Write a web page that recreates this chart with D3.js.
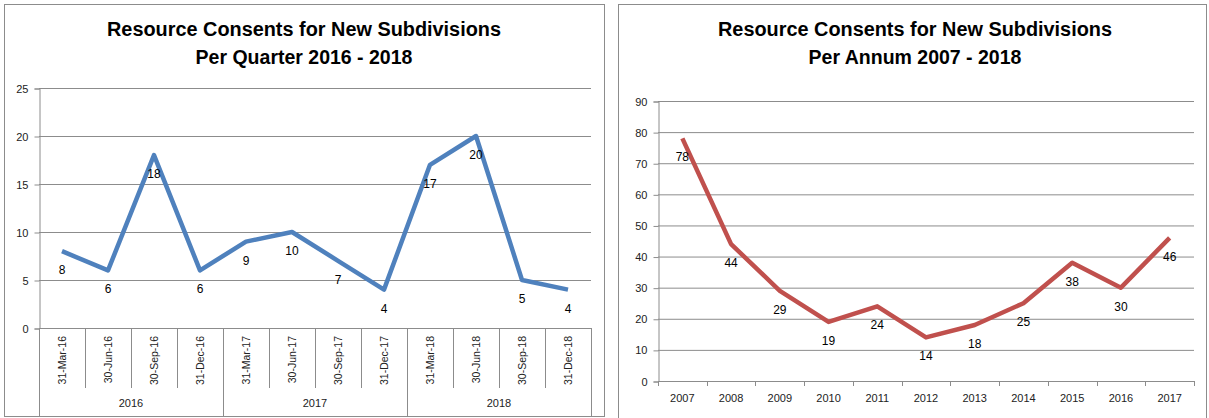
<!DOCTYPE html>
<html>
<head>
<meta charset="utf-8">
<script src="https://cdn.jsdelivr.net/npm/d3@7"></script>
<style>
  body { margin: 0; background: #fff; }
  svg { display: block; font-family: "Liberation Sans", Arial, sans-serif; }
  .tick text { fill: #222; }
</style>
</head>
<body>
<div id="chart"></div>
<script>
// data
var quarterDates = ["31-Mar-16", "30-Jun-16", "30-Sep-16", "31-Dec-16",
                    "31-Mar-17", "30-Jun-17", "30-Sep-17", "31-Dec-17",
                    "31-Mar-18", "30-Jun-18", "30-Sep-18", "31-Dec-18"];
var quarterYears = ["2016", "2017", "2018"];
var quarterValues = [8, 6, 18, 6, 9, 10, 7, 4, 17, 20, 5, 4];
var quarterTicks = [0, 5, 10, 15, 20, 25];

var annumYears = ["2007", "2008", "2009", "2010", "2011", "2012",
                  "2013", "2014", "2015", "2016", "2017"];
var annumValues = [78, 44, 29, 19, 24, 14, 18, 25, 38, 30, 46];
var annumTicks = [0, 10, 20, 30, 40, 50, 60, 70, 80, 90];

var width = 1209, height = 418;
var grid = "#8c8c8c";

var svg = d3.select('#chart')
			.append('svg')
			.attr('width', width)
			.attr('height', height);

function drawTitle(cx, line1, line2) {
	svg.append('text')
		.attr('x', cx).attr('y', 36)
		.attr('text-anchor', 'middle')
		.attr('font-size', 19.5).attr('font-weight', 'bold')
		.attr('textLength', 394).attr('lengthAdjust', 'spacingAndGlyphs')
		.text(line1);
	svg.append('text')
		.attr('x', cx).attr('y', 64)
		.attr('text-anchor', 'middle')
		.attr('font-size', 19.5).attr('font-weight', 'bold')
		.text(line2);
}

function yAxis(g, y, ticks, x0, x1) {
	// gridlines
	g.selectAll('line.grid')
		.data(ticks)
		.enter()
		.append('line')
		.attr('class', 'grid')
		.attr('x1', x0).attr('x2', x1)
		.attr('y1', function(d){ return y(d) + 0.5; })
		.attr('y2', function(d){ return y(d) + 0.5; })
		.attr('stroke', grid);
	var ax = g.append('g')
		.attr('transform', 'translate(' + (x0 + 0.5) + ',0.5)')
		.call(d3.axisLeft(y).tickValues(ticks).tickSize(5).tickPadding(6));
	ax.selectAll('line, path').attr('stroke', grid);
	ax.selectAll('text').attr('font-size', 11).attr('font-family', '"Liberation Sans", Arial, sans-serif');
}

// ---------- left chart: per quarter ----------
svg.append('rect')
	.attr('x', 4.5).attr('y', 4.5)
	.attr('width', 600).attr('height', 412)
	.attr('fill', 'none').attr('stroke', grid);

drawTitle(304, "Resource Consents for New Subdivisions", "Per Quarter 2016 - 2018");

var qx = d3.scaleBand().domain(quarterDates).range([39, 591]);
var qy = d3.scaleLinear().domain([0, 25]).range([328, 88]);
var left = svg.append('g');

yAxis(left, qy, quarterTicks, 39, 591);

// category separators and rotated labels
left.selectAll('line.sep')
	.data(quarterDates.concat(['end']))
	.enter()
	.append('line')
	.attr('x1', function(d, i){ return Math.round(39 + i * qx.bandwidth()) + 0.5; })
	.attr('x2', function(d, i){ return Math.round(39 + i * qx.bandwidth()) + 0.5; })
	.attr('y1', 328)
	.attr('y2', function(d, i){ return i % 4 === 0 ? 416 : 388; })
	.attr('stroke', grid);

left.selectAll('text.date')
	.data(quarterDates)
	.enter()
	.append('text')
	.attr('class', 'date')
	.attr('transform', function(d){ return 'translate(' + (qx(d) + qx.bandwidth() / 2) + ',336) rotate(-90)'; })
	.attr('text-anchor', 'end')
	.attr('dy', '0.35em')
	.attr('font-size', 10.5)
	.attr('fill', '#222')
	.text(function(d){ return d; });

var yearBand = d3.scaleBand().domain(quarterYears).range([39, 591]);
left.selectAll('text.year')
	.data(quarterYears)
	.enter()
	.append('text')
	.attr('x', function(d){ return yearBand(d) + yearBand.bandwidth() / 2; })
	.attr('y', 407)
	.attr('text-anchor', 'middle')
	.attr('font-size', 11)
	.attr('fill', '#222')
	.text(function(d){ return d; });

var qline = d3.line()
	.x(function(d, i){ return qx(quarterDates[i]) + qx.bandwidth() / 2; })
	.y(function(d){ return qy(d); });

left.append('path')
	.datum(quarterValues)
	.attr('d', qline)
	.attr('fill', 'none')
	.attr('stroke', '#4f81bd')
	.attr('stroke-width', 4.5)
	.attr('stroke-linejoin', 'round');

left.selectAll('text.val')
	.data(quarterValues)
	.enter()
	.append('text')
	.attr('x', function(d, i){ return qx(quarterDates[i]) + qx.bandwidth() / 2; })
	.attr('y', function(d){ return qy(d) + 23; })
	.attr('text-anchor', 'middle')
	.attr('font-size', 12)
	.text(function(d){ return d; });

// ---------- right chart: per annum ----------
svg.append('rect')
	.attr('x', 618.5).attr('y', 4.5)
	.attr('width', 588).attr('height', 420)
	.attr('fill', 'none').attr('stroke', grid);

drawTitle(915, "Resource Consents for New Subdivisions", "Per Annum 2007 - 2018");

var ax = d3.scaleBand().domain(annumYears).range([658, 1194]);
var ay = d3.scaleLinear().domain([0, 90]).range([381, 101]);
var right = svg.append('g');

yAxis(right, ay, annumTicks, 658, 1194);

right.selectAll('line.tk')
	.data(annumYears.concat(['end']))
	.enter()
	.append('line')
	.attr('x1', function(d, i){ return Math.round(658 + i * ax.bandwidth()) + 0.5; })
	.attr('x2', function(d, i){ return Math.round(658 + i * ax.bandwidth()) + 0.5; })
	.attr('y1', 381).attr('y2', 386)
	.attr('stroke', grid);

right.selectAll('text.cat')
	.data(annumYears)
	.enter()
	.append('text')
	.attr('x', function(d){ return ax(d) + ax.bandwidth() / 2; })
	.attr('y', 402)
	.attr('text-anchor', 'middle')
	.attr('font-size', 11)
	.attr('fill', '#222')
	.text(function(d){ return d; });

var aline = d3.line()
	.x(function(d, i){ return ax(annumYears[i]) + ax.bandwidth() / 2; })
	.y(function(d){ return ay(d); });

right.append('path')
	.datum(annumValues)
	.attr('d', aline)
	.attr('fill', 'none')
	.attr('stroke', '#c0504d')
	.attr('stroke-width', 4.5)
	.attr('stroke-linejoin', 'round');

right.selectAll('text.val')
	.data(annumValues)
	.enter()
	.append('text')
	.attr('x', function(d, i){ return ax(annumYears[i]) + ax.bandwidth() / 2; })
	.attr('y', function(d){ return ay(d) + 23; })
	.attr('text-anchor', 'middle')
	.attr('font-size', 12)
	.text(function(d){ return d; });
</script>
</body>
</html>
